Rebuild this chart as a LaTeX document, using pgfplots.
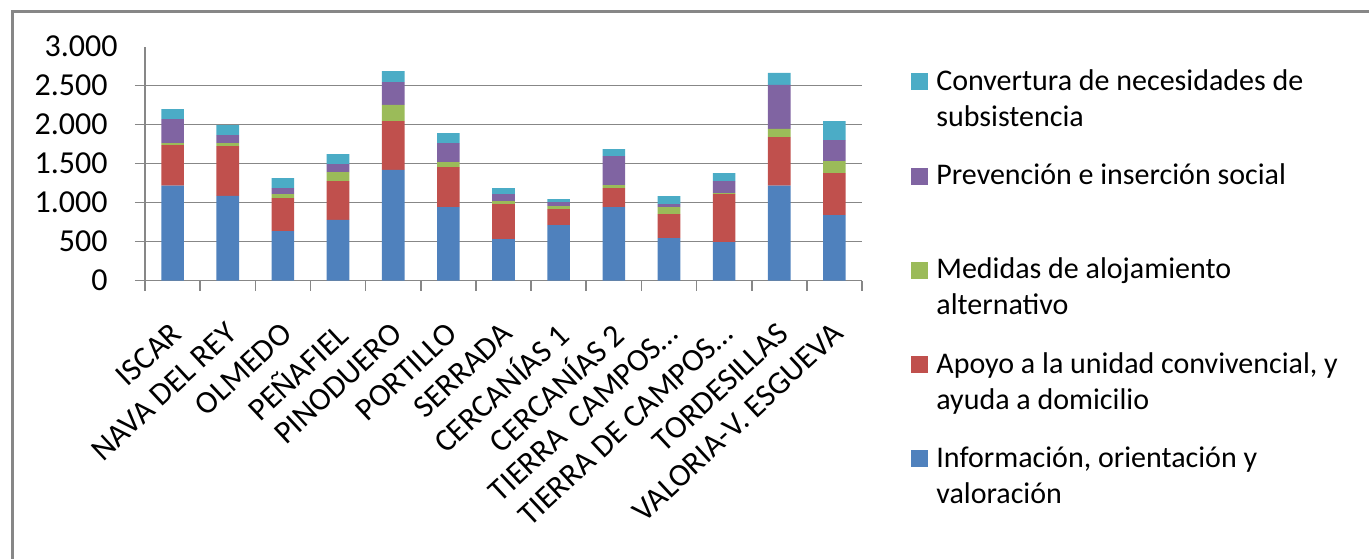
\documentclass[border=0pt]{standalone}
\usepackage{pgfplots}
\usepackage{pgfplotstable}
\pgfplotsset{compat=1.18}
\usepackage{fontspec}
\setmainfont{Carlito}

\definecolor{sInfo}{HTML}{4F81BD}
\definecolor{sApoyo}{HTML}{C0504D}
\definecolor{sAloj}{HTML}{9BBB59}
\definecolor{sPrev}{HTML}{8064A2}
\definecolor{sConv}{HTML}{4BACC6}
\definecolor{axgray}{HTML}{878787}

% zona, informacion, apoyo, alojamiento, prevencion, convertura
\pgfplotstableread{
x  info apoyo aloj prev conv
0  1216 522 26  308 128
1  1087 638 39  102 129
2  634  423 52  77  128
3  779  497 115 103 128
4  1421 625 206 295 141
5  942  514 64  244 128
6  531  449 39  90  77
7  711  205 39  51  39
8  942  244 38  373 90
9  544  308 90  38  103
10 492  617 13  154 102
11 1216 625 103 565 154
12 839  539 155 269 244
}\datos

\newcommand{\leg}[2]{\parbox[t]{220pt}{\strut #1\newline\strut #2}}

\begin{document}
\begin{tikzpicture}[x=1pt,y=1pt]
\path[use as bounding box] (0,0) rectangle (684.5,279);
\draw[axgray, line width=1.5pt] (6,-10) -- (6,273) -- (700,273);
\begin{axis}[
  at={(72.5pt,138.75pt)}, anchor=south west,
  scale only axis, width=358.5pt, height=116.9pt,
  ybar stacked, bar width=0.41,
  xmin=-0.5, xmax=12.5, ymin=0, ymax=3000,
  axis lines*=left,
  axis line style={axgray, line width=0.8pt},
  tick style={axgray, line width=0.8pt},
  tick align=outside, major tick length=5pt,
  font=\fontsize{16}{19}\selectfont,
  xtick={-0.5,0.5,...,12.5}, xticklabels={},
  extra x ticks={0,1,...,12},
  extra x tick labels={ISCAR, NAVA DEL REY, OLMEDO, PEÑAFIEL, PINODUERO, PORTILLO, SERRADA, CERCANÍAS 1, CERCANÍAS 2, TIERRA\ \ CAMPOS…, TIERRA DE CAMPOS…, TORDESILLAS, VALORIA-V. ESGUEVA},
  extra x tick style={major tick length=0pt, grid=none},
  xticklabel style={xshift=2pt, yshift=-24pt, rotate=43, anchor=east, inner sep=0pt},
  ytick={0,500,...,2500},
  extra y ticks={3000},
  extra y tick style={major tick length=0pt, grid=none},
  ymajorgrids, grid style={axgray, line width=0.7pt},
  scaled y ticks=false,
  /pgf/number format/1000 sep={.},
  /pgf/number format/assume math mode=true,
  yticklabel style={inner sep=0pt, xshift=-13.5pt},
  reverse legend,
  legend image code/.code={\fill[#1] (0pt,0pt) rectangle (8.5pt,8.5pt);},
  legend style={draw=none, fill=none, at={(1.0683,0.9226)}, anchor=north west,
    inner sep=0pt, row sep=33pt, column sep=4pt,
    cells={anchor=base west}, nodes={inner sep=0pt},
    font=\fontsize{15}{18}\selectfont},
]
\addplot[fill=sInfo, draw=none] table[x=x, y=info] {\datos};
\addlegendentry{\leg{Información, orientación y}{valoración}}
\addplot[fill=sApoyo, draw=none] table[x=x, y=apoyo] {\datos};
\addlegendentry{\leg{Apoyo a la unidad convivencial, y}{ayuda a domicilio}}
\addplot[fill=sAloj, draw=none] table[x=x, y=aloj] {\datos};
\addlegendentry{\leg{Medidas de alojamiento}{alternativo}}
\addplot[fill=sPrev, draw=none] table[x=x, y=prev] {\datos};
\addlegendentry{\leg{Prevención e inserción social}{}}
\addplot[fill=sConv, draw=none] table[x=x, y=conv] {\datos};
\addlegendentry{\leg{Convertura de necesidades de}{subsistencia}}
\end{axis}
\end{tikzpicture}
\end{document}
